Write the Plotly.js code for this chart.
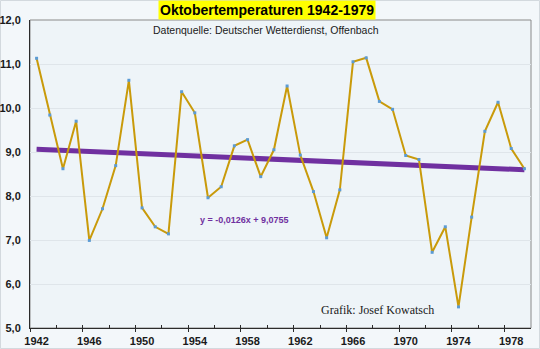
<!DOCTYPE html>
<html>
<head>
<meta charset="utf-8">
<script src="https://cdn.plot.ly/plotly-3.0.1.min.js"></script>
<style>
  html, body { margin: 0; padding: 0; background: #f3f7fa; }
  #chart { width: 540px; height: 349px; }
</style>
</head>
<body>
<div id="chart"></div>
<script>
// ---- data ----
const years = [1942,1943,1944,1945,1946,1947,1948,1949,1950,1951,1952,1953,1954,1955,1956,1957,1958,1959,1960,
               1961,1962,1963,1964,1965,1966,1967,1968,1969,1970,1971,1972,1973,1974,1975,1976,1977,1978,1979];
const temps = [11.13,9.84,8.62,9.70,6.99,7.71,8.69,10.63,7.73,7.30,7.14,10.37,9.89,7.96,8.21,9.14,9.28,8.44,9.05,
               10.50,8.93,8.10,7.05,8.14,11.05,11.14,10.15,9.97,8.92,8.83,6.72,7.30,5.48,7.52,9.47,10.13,9.08,8.62];
const tickYears = [1942,1946,1950,1954,1958,1962,1966,1970,1974,1978];
const tickLabels = ["1942","1946","1950","1954","1958","1962","1966","1970","1974","1978"];
const trendSlope = -0.0126;
const trendIntercept = 9.0755;
const trendLabel = "y = -0,0126x + 9,0755";
const titleText = "Oktobertemperaturen 1942-1979";
const sourceText = "Datenquelle: Deutscher Wetterdienst, Offenbach";
const creditText = "Grafik: Josef Kowatsch";

// trend endpoints from Excel equation (x = 1..n)
const n = years.length;
const trendX = [years[0], years[n-1]];
const trendY = [trendSlope * 1 + trendIntercept, trendSlope * n + trendIntercept];

// category boundaries for tick marks
const majorBounds = [], minorBounds = [];
for (let i = 0; i < n; i += 2) {
  const b = years[i] - 0.5;
  if ((i / 2) % 2 === 0) majorBounds.push(b); else minorBounds.push(b);
}

const xRange = [years[0] - 0.5, years[n-1] + 0.5];
const axisCol = '#2b2b2b';
const sans = 'Arial, "Liberation Sans", sans-serif';

const traces = [
  { x: trendX, y: trendY, type: 'scatter', mode: 'lines',
    line: { color: '#7030a0', width: 5 }, hoverinfo: 'skip', showlegend: false },
  { x: years, y: temps, type: 'scatter', mode: 'lines+markers',
    line: { color: '#c99a0a', width: 2 },
    marker: { color: '#5b9bd5', size: 3, symbol: 'square' }, showlegend: false },
  { x: [], y: [], xaxis: 'x2', yaxis: 'y', showlegend: false },
  { x: [], y: [], xaxis: 'x3', yaxis: 'y', showlegend: false }
];

const H = 308; // plot height px
const layout = {
  width: 540, height: 349,
  margin: { l: 30, r: 9, t: 20, b: 21 },
  paper_bgcolor: '#f3f7fa',
  plot_bgcolor: '#eef4f8',
  separators: ', ',
  font: { family: sans, color: '#1a1a1a' },
  xaxis: {
    range: xRange, tickvals: tickYears, ticktext: tickLabels,
    ticks: '', showgrid: false, zeroline: false,
    showline: true, linecolor: axisCol, linewidth: 1,
    tickfont: { size: 11, weight: 'bold', color: '#1a1a1a' },
    ticklabelstandoff: 3, fixedrange: true
  },
  xaxis2: {
    overlaying: 'x', anchor: 'y', range: xRange,
    tickvals: majorBounds, ticks: 'outside', ticklen: 3, tickcolor: axisCol,
    showticklabels: false, showgrid: false, zeroline: false, showline: false,
    minor: { tickvals: minorBounds, ticks: 'inside', ticklen: 3, tickcolor: axisCol, showgrid: false }
  },
  xaxis3: {
    overlaying: 'x', anchor: 'y', range: xRange,
    tickvals: majorBounds, ticks: 'inside', ticklen: 3, tickcolor: axisCol,
    showticklabels: false, showgrid: false, zeroline: false, showline: false
  },
  yaxis: {
    range: [5, 12], dtick: 1, tick0: 5, tickformat: '.1f',
    ticks: '', showgrid: true, gridcolor: '#dfe5ea', gridwidth: 1,
    zeroline: false, showline: true, linecolor: axisCol, linewidth: 1,
    tickfont: { size: 11, weight: 'bold', color: '#1a1a1a' },
    ticklabelstandoff: 6, fixedrange: true
  },
  shapes: [
    { type: 'rect', xref: 'paper', yref: 'paper', x0: 0, x1: 1, y0: 0, y1: 1,
      line: { color: '#8a8a8a', width: 1 }, fillcolor: 'rgba(0,0,0,0)', layer: 'below' },
    { type: 'rect', xref: 'paper', yref: 'paper',
      x0: (0.5 - 30) / 501, x1: (539.5 - 30) / 501,
      y0: (328 - 348.5) / H, y1: (328 - 0.5) / H,
      line: { color: '#d3d9de', width: 1 }, fillcolor: 'rgba(0,0,0,0)', layer: 'below' }
  ],
  annotations: [
    { text: titleText, xref: 'paper', yref: 'paper',
      x: (267 - 30) / 501, y: 1 + 10 / H, xanchor: 'center', yanchor: 'middle',
      showarrow: false, bgcolor: '#ffff00', borderpad: 1,
      font: { family: sans, size: 14, weight: 'bold', color: '#000' } },
    { text: sourceText, xref: 'paper', yref: 'paper',
      x: (266 - 30) / 501, y: 1 - 10 / H, xanchor: 'center', yanchor: 'middle',
      showarrow: false,
      font: { family: sans, size: 10.5, color: '#1a1a1a' } },
    { text: trendLabel, xref: 'paper', yref: 'paper',
      x: (244 - 30) / 501, y: (328 - 220) / H, xanchor: 'center', yanchor: 'middle',
      showarrow: false,
      font: { family: sans, size: 9, weight: 'bold', color: '#7030a0' } },
    { text: creditText, xref: 'paper', yref: 'paper',
      x: (377 - 30) / 501, y: (328 - 310) / H, xanchor: 'center', yanchor: 'middle',
      showarrow: false,
      font: { family: '"Times New Roman", "Liberation Serif", serif', size: 12, color: '#1a1a1a' } }
  ]
};

Plotly.newPlot('chart', traces, layout, { displayModeBar: false, staticPlot: true });
</script>
</body>
</html>
